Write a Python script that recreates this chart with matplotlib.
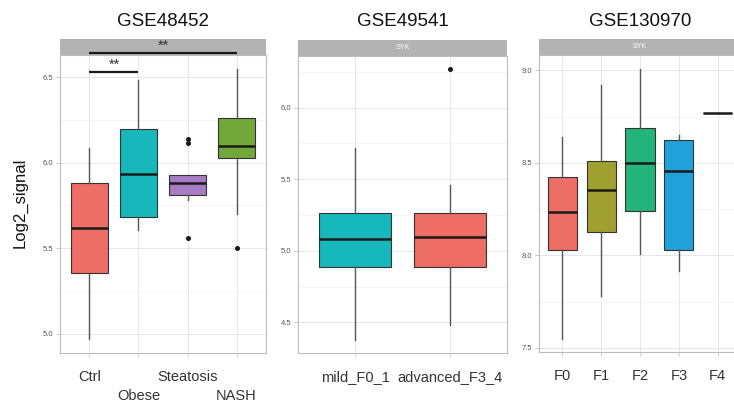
import matplotlib
matplotlib.use("Agg")
import matplotlib.pyplot as plt
from matplotlib.patches import Rectangle
from matplotlib.ticker import MultipleLocator

plt.rcParams['font.family'] = ['Liberation Sans', 'DejaVu Sans']

# ---------------- data ----------------
titles = ['GSE48452', 'GSE49541', 'GSE130970']

cats1 = ['Ctrl', 'Obese', 'Steatosis', 'NASH']
q1_1 = [5.354, 5.681, 5.809, 6.029]
med_1 = [5.620, 5.932, 5.883, 6.095]
q3_1 = [5.879, 6.199, 5.926, 6.260]
lo_1 = [4.967, 5.607, 5.780, 5.697]
hi_1 = [6.086, 6.480, 5.926, 6.545]
out_1 = [[], [], [5.56, 6.115, 6.139], [5.502]]
colors1 = ['#EE6E66', '#17B8BC', '#A67CC4', '#72A83A']

cats2 = ['mild_F0_1', 'advanced_F3_4']
q1_2 = [4.888, 4.888]
med_2 = [5.086, 5.098]
q3_2 = [5.266, 5.266]
lo_2 = [4.380, 4.480]
hi_2 = [5.720, 5.460]
out_2 = [[], [6.27]]
colors2 = ['#17B8BC', '#EE6E66']

cats3 = ['F0', 'F1', 'F2', 'F3', 'F4']
q1_3 = [8.030, 8.124, 8.240, 8.030, 8.771]
med_3 = [8.235, 8.354, 8.500, 8.455, 8.771]
q3_3 = [8.426, 8.509, 8.686, 8.623, 8.771]
lo_3 = [7.548, 7.780, 8.007, 7.914, 8.771]
hi_3 = [8.642, 8.919, 9.007, 8.650, 8.771]
out_3 = [[], [], [], [], []]
colors3 = ['#EE6E66', '#A0A030', '#22B478', '#22A0DC', '#E070E0']

# significance comparisons (panel 1): (group a, group b, bracket y, label)
sig_pairs = [(0, 1, 6.531, '**'), (0, 3, 6.640, '**')]

strip_label = 'SYK'

# ---------------- layout ----------------
W, H = 734, 405
fig = plt.figure(figsize=(W / 100, H / 100), dpi=100)

def px_axes(left, right, top, bottom):
    return fig.add_axes([left / W, 1 - bottom / H, (right - left) / W, (bottom - top) / H])

panels = [
    dict(box=(60, 266, 55, 353), cats=cats1, q1=q1_1, med=med_1, q3=q3_1, lo=lo_1, hi=hi_1,
         out=out_1, colors=colors1, ylim=(4.887, 6.629), yticks=[5.0, 5.5, 6.0, 6.5], strip_text=False),
    dict(box=(298, 507, 56, 353), cats=cats2, q1=q1_2, med=med_2, q3=q3_2, lo=lo_2, hi=hi_2,
         out=out_2, colors=colors2, ylim=(4.287, 6.36), yticks=[4.5, 5.0, 5.5, 6.0], strip_text=True),
    dict(box=(539, 741, 55, 352), cats=cats3, q1=q1_3, med=med_3, q3=q3_3, lo=lo_3, hi=hi_3,
         out=out_3, colors=colors3, ylim=(7.477, 9.083), yticks=[7.5, 8.0, 8.5, 9.0], strip_text=True),
]

strip_px = 16
axes = []
for i, p in enumerate(panels):
    l, r, t, b = p['box']
    ax = px_axes(l, r, t, b)
    axes.append(ax)
    n = len(p['cats'])
    stats = []
    for k in range(n):
        stats.append(dict(med=p['med'][k], q1=p['q1'][k], q3=p['q3'][k],
                          whislo=p['lo'][k], whishi=p['hi'][k], fliers=p['out'][k]))
    bp = ax.bxp(stats, positions=list(range(1, n + 1)), widths=0.75, patch_artist=True,
                showcaps=False, manage_ticks=False,
                boxprops=dict(edgecolor='#333333', linewidth=0.8),
                medianprops=dict(color='#1a1a1a', linewidth=1.8),
                whiskerprops=dict(color='#555555', linewidth=1.0),
                flierprops=dict(marker='o', markersize=2.6, markerfacecolor='#1a1a1a',
                                markeredgecolor='#1a1a1a', linestyle='none'))
    for patch, c in zip(bp['boxes'], p['colors']):
        patch.set_facecolor(c)
        patch.set_zorder(2)
    for m in bp['medians']:
        m.set_zorder(3)

    ax.set_xlim(0.4, n + 0.6)
    ax.set_ylim(*p['ylim'])
    ax.set_xticks(range(1, n + 1))
    ax.set_xticklabels(p['cats'])
    ax.set_yticks(p['yticks'])
    ax.set_yticklabels([f'{v:.1f}' for v in p['yticks']])
    ax.yaxis.set_minor_locator(MultipleLocator(0.25))
    ax.grid(True, which='major', color='#e3e3e3', linewidth=0.6, zorder=0)
    ax.grid(True, which='minor', axis='y', color='#efefef', linewidth=0.4, zorder=0)
    ax.set_axisbelow(True)
    for s in ax.spines.values():
        s.set_color('#bdbdbd')
        s.set_linewidth(0.8)
    ax.tick_params(axis='y', which='major', length=3, width=0.6, color='#bdbdbd',
                   labelsize=5.5, labelcolor='#555555', pad=2)
    ax.tick_params(axis='y', which='minor', length=0)
    ax.tick_params(axis='x', length=3, width=0.6, color='#cccccc',
                   labelsize=10.5, labelcolor='#333333', pad=9)

    # strip
    hfrac = strip_px / (b - t)
    ax.add_patch(Rectangle((0, 1), 1, hfrac, transform=ax.transAxes, facecolor='#b3b3b3',
                           edgecolor='none', clip_on=False, zorder=4))
    if p['strip_text']:
        ax.text(0.5, 1 + hfrac / 2, strip_label, transform=ax.transAxes, ha='center',
                va='center', color='white', fontsize=5, zorder=5)

    # title
    fig.text((l + min(r, W + 7)) / 2 / W, 1 - 21.5 / H, titles[i], ha='center', va='center',
             fontsize=13.5, color='#111111')

# staggered labels in panel 1
for tick in axes[0].xaxis.get_major_ticks()[1::2]:
    tick.set_pad(23)

# significance brackets
ax0 = axes[0]
for a, b2, y, lab in sig_pairs:
    ax0.plot([a + 1, b2 + 1], [y, y], color='#1a1a1a', linewidth=1.6, clip_on=False, zorder=6,
             solid_capstyle='butt')
    ax0.text((a + b2 + 2) / 2, y + 0.04, lab, ha='center', va='center', fontsize=10.5,
             color='#333333', zorder=7, clip_on=False)

fig.text(20 / W, 1 - 203 / H, 'Log2_signal', rotation=90, ha='center', va='center',
         fontsize=12, color='#111111')

fig.savefig('out.png', dpi=100)
